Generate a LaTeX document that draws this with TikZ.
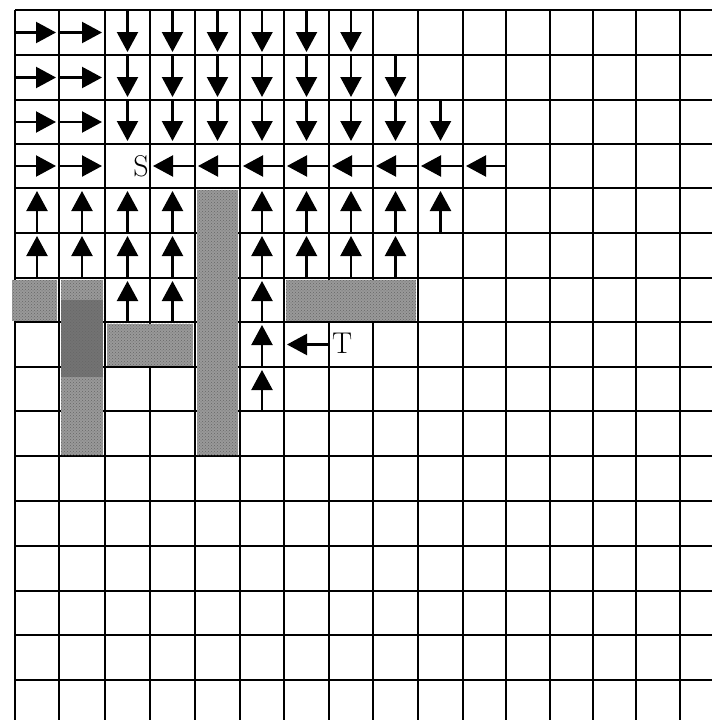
\documentclass[tikz,border=0pt]{standalone}
\usetikzlibrary{arrows.meta,patterns}
\def\xs{{15,59,105,150,195,240,284,329,373,418,463,506,550,593,636,680}}
\def\ys{{10,55,100,144,188,233,278,322,367,411,456,501,546,591,635,680}}
\tikzset{
  gridline/.style={line width=2pt,black},
  flowarrow/.style={line width=2.2pt,black,-{Triangle[width=21pt,length=20pt]},shorten >=3pt},
  wall/.style={fill=black!40},
  darkwall/.style={fill=black!55},
  dots/.style={pattern=crosshatch dots,pattern color=black!60},
  lbl/.style={inner sep=0pt,font=\fontsize{30}{30}\selectfont}
}
\newcommand\cellarrow[3]{%
  \pgfmathsetmacro\xa{\xs[#1]}\pgfmathsetmacro\xb{\xs[#1+1]}%
  \pgfmathsetmacro\ya{\ys[#2]}\pgfmathsetmacro\yb{\ys[#2+1]}%
  \pgfmathsetmacro\xm{(\xa+\xb)/2}\pgfmathsetmacro\ym{(\ya+\yb)/2}%
  \if#3R\coordinate (p) at (\xa,\ym);\coordinate (q) at (\xb,\ym);\fi
  \if#3L\coordinate (p) at (\xb,\ym);\coordinate (q) at (\xa,\ym);\fi
  \if#3D\coordinate (p) at (\xm,\ya);\coordinate (q) at (\xm,\yb);\fi
  \if#3U\coordinate (p) at (\xm,\yb);\coordinate (q) at (\xm,\ya);\fi
  \draw[flowarrow] (p) -- (q);%
}
\begin{document}
\begin{tikzpicture}[x=1pt,y=-1pt]
\useasboundingbox[fill=white] (0,0) rectangle (712,720);
% grid
\foreach \c in {0,...,15}{
  \pgfmathsetmacro\gx{\xs[\c]}
  \draw[gridline] (\gx,10) -- (\gx,720);
}
\foreach \r in {0,...,15}{
  \pgfmathsetmacro\gy{\ys[\r]}
  \draw[gridline] (15,\gy) -- (712,\gy);
}
% shaded blocks
\fill[wall] (12,279.5) rectangle (57,320.5);
\fill[wall] (61,279.5) rectangle (103,455);
\fill[darkwall] (61,300) rectangle (103,377);
\fill[wall] (107,323.5) rectangle (193,365.5);
\fill[wall] (197,189.5) rectangle (238,455);
\fill[wall] (286,279.5) rectangle (416,320.5);
\fill[dots] (12,279.5) rectangle (57,320.5);
\fill[dots] (61,279.5) rectangle (103,455);
\fill[dots] (107,323.5) rectangle (193,365.5);
\fill[dots] (197,189.5) rectangle (238,455);
\fill[dots] (286,279.5) rectangle (416,320.5);
% arrows
\foreach \c/\r/\d in {
  0/0/R,1/0/R,2/0/D,3/0/D,4/0/D,5/0/D,6/0/D,7/0/D,
  0/1/R,1/1/R,2/1/D,3/1/D,4/1/D,5/1/D,6/1/D,7/1/D,8/1/D,
  0/2/R,1/2/R,2/2/D,3/2/D,4/2/D,5/2/D,6/2/D,7/2/D,8/2/D,9/2/D,
  0/3/R,1/3/R,3/3/L,4/3/L,5/3/L,6/3/L,7/3/L,8/3/L,9/3/L,10/3/L,
  0/4/U,1/4/U,2/4/U,3/4/U,5/4/U,6/4/U,7/4/U,8/4/U,9/4/U,
  0/5/U,1/5/U,2/5/U,3/5/U,5/5/U,6/5/U,7/5/U,8/5/U,
  2/6/U,3/6/U,5/6/U,
  5/7/U,6/7/L,
  5/8/U}{
  \cellarrow{\c}{\r}{\d}
}
% labels
\node[lbl,anchor=east] (S) at (149,166) {S};
\node[lbl,anchor=west] (T) at (332,343) {T};
\end{tikzpicture}
\end{document}
